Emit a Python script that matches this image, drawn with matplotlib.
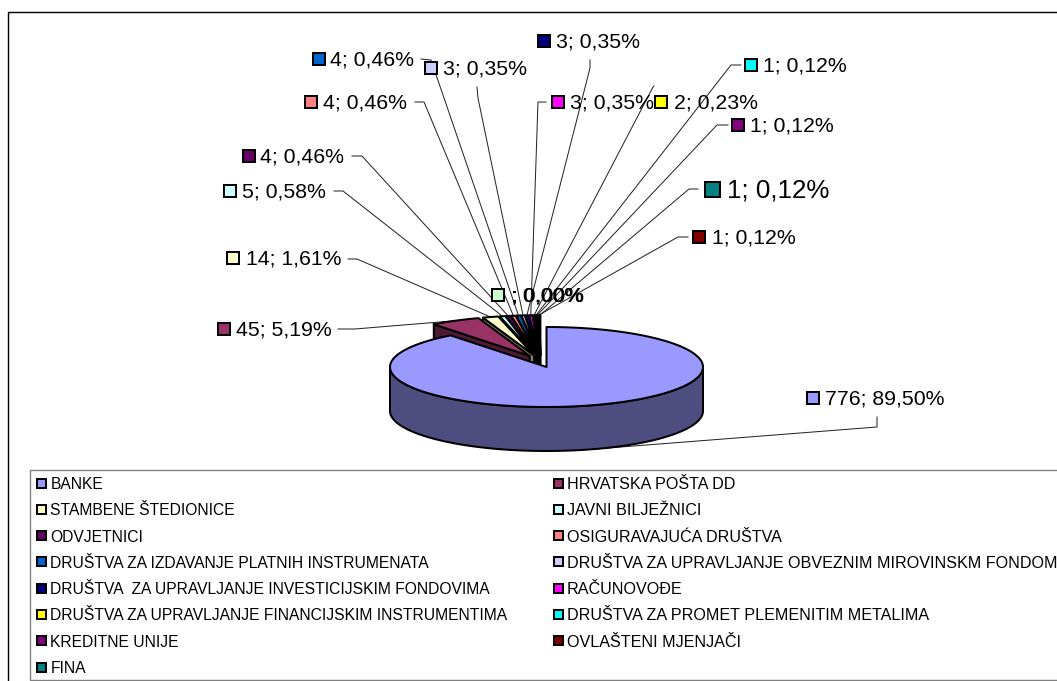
import numpy as np
import matplotlib
matplotlib.use("Agg")
import matplotlib.pyplot as plt
from matplotlib.patches import Polygon, Rectangle

plt.rcParams['font.family'] = ['Liberation Sans', 'DejaVu Sans']

categories = ["BANKE", "HRVATSKA POŠTA DD", "STAMBENE ŠTEDIONICE", "JAVNI BILJEŽNICI", "ODVJETNICI",
              "OSIGURAVAJUĆA DRUŠTVA", "DRUŠTVA ZA IZDAVANJE PLATNIH INSTRUMENATA",
              "DRUŠTVA ZA UPRAVLJANJE OBVEZNIM MIROVINSKM FONDOM",
              "DRUŠTVA  ZA UPRAVLJANJE INVESTICIJSKIM FONDOVIMA", "RAČUNOVOĐE",
              "DRUŠTVA ZA UPRAVLJANJE FINANCIJSKIM INSTRUMENTIMA", "DRUŠTVA ZA PROMET PLEMENITIM METALIMA",
              "KREDITNE UNIJE", "OVLAŠTENI MJENJAČI", "FINA"]
values = [776, 45, 14, 5, 4, 4, 4, 3, 3, 3, 2, 1, 1, 1, 1]
colors = ["#9999FF", "#993366", "#FFFFCC", "#CCFFFF", "#660066", "#FF8080", "#0066CC", "#CCCCFF",
          "#000080", "#FF00FF", "#FFFF00", "#00FFFF", "#800080", "#800000", "#008080"]
empty_label_color = "#CCFFCC"

# layout (pixels): marker centre, text start, leader start, elbow
label_layout = [
    ((813, 398), 825, (877, 417), (877, 427)),
    ((224, 329), 236, (338, 329), (355, 329)),
    ((233, 258), 246, (348, 259), (357, 259)),
    ((230, 191), 242, (334, 191), (343, 191)),
    ((249, 156), 260, (352, 156), (362, 156)),
    ((311, 102), 323, (415, 102), (424, 102)),
    ((319, 59), 330, (421, 59), (431, 60)),
    ((431, 68), 443, (477, 87), (478, 98)),
    ((544, 41), 556, (590, 60), (590, 68)),
    ((558, 102), 570, (546, 102), (538, 102)),
    ((661, 102), 674, (654, 86), (653, 87)),
    ((751, 65), 763, (741, 65), (731, 65)),
    ((738, 125), 750, (728, 125), (717, 125)),
    ((699, 237), 712, (688, 237), (678, 237)),
    ((712, 189), 727, (698, 189), (689, 189)),
]
CX, CY, RX, RY, DEPTH = 546.5, 367.0, 156.5, 40.0, 44.0
EXPLODE, BASE_DX, BASE_DY = 0.145, -6.0, -6.0
FS, FS_BIG = 15.3, 18.7
FS_LEG = (11.25, 11.6)
PX = 0.72

fig = plt.figure(figsize=(10.57, 6.81), dpi=100, facecolor="white")
ax = fig.add_axes([0, 0, 1, 1])
ax.set_xlim(0, 1057)
ax.set_ylim(681, 0)
ax.axis("off")


def pt(deg, ox=0.0, oy=0.0, r=1.0):
    a = np.radians(deg)
    return np.array([ox + CX + r * RX * np.sin(a), oy + CY - r * RY * np.cos(a)])


def darker(c):
    return tuple(v * 0.5 for v in matplotlib.colors.to_rgb(c))


total = sum(values)
fractions = [v / total for v in values]
edges = np.concatenate([[0], np.cumsum(fractions) * 360])
lw = 2 * PX

# outer chart frame
ax.add_patch(Rectangle((7.5, 12), 1060, 680, fc="white", ec="black", lw=1.4 * PX, zorder=0))


def offset(i):
    mid = np.radians((edges[i] + edges[i + 1]) / 2)
    if i == 0:
        return 0.0, 0.0
    return (BASE_DX + EXPLODE * RX * np.sin(mid), BASE_DY - EXPLODE * RY * np.cos(mid))


# leader lines, behind the pie
for i in range(len(values)):
    ox, oy = offset(i)
    mid = (edges[i] + edges[i + 1]) / 2
    end = pt(mid, ox, oy)
    if i == 0:
        end = end + np.array([0, DEPTH])
    _, _, start, elbow = label_layout[i]
    ax.plot([start[0], elbow[0], end[0]], [start[1], elbow[1], end[1]], color="#222222",
            lw=1.0 * PX, zorder=1, solid_joinstyle="miter")

z = 2
# exploded slices: back to front
for i in range(len(values) - 1, 0, -1):
    ox, oy = offset(i)
    apex = np.array([CX + ox, CY + oy])
    outer = pt(edges[i], ox, oy)
    d = np.array([0, DEPTH])
    wall = darker(colors[i]) if i < 3 else "black"
    ax.add_patch(Polygon([apex, outer, outer + d, apex + d], fc=wall, ec="black", lw=lw, zorder=z))
    z += 1
    angs = np.linspace(edges[i], edges[i + 1], 12)
    ax.add_patch(Polygon([apex] + [pt(a, ox, oy) for a in angs], fc=colors[i], ec="black", lw=lw, zorder=z,
                         joinstyle="round"))
    z += 1

# main slice: side then top
z = 60
angs = np.linspace(90, 270, 120)
front = [pt(a) for a in angs]
ax.add_patch(Polygon(front + [p + np.array([0, DEPTH]) for p in front[::-1]], fc=darker(colors[0]), ec="black",
                     lw=lw, zorder=z))
angs = np.linspace(edges[0], edges[1], 300)
ax.add_patch(Polygon([pt(0, r=0)] + [pt(a) for a in angs], fc=colors[0], ec="black", lw=lw, zorder=z + 1,
                     joinstyle="round"))


def swatch(x, y, size, color, border):
    ax.add_patch(Rectangle((x - size / 2, y - size / 2), size, size, fc=color, ec="black", lw=border * PX, zorder=80))


# data labels
for i, v in enumerate(values):
    (mx, my), tx, _, _ = label_layout[i]
    big = categories[i] == "FINA"
    swatch(mx, my, 15 if big else 12, colors[i], 2)
    txt = f"{v}; {100 * v / total:.2f}%".replace(".", ",")
    ax.text(tx, my - 1, txt, fontsize=FS_BIG if big else FS, va="center_baseline", ha="left", color="black", zorder=81)

# the unnamed zero-value labels, drawn on top of each other
swatch(498, 295, 12, empty_label_color, 2)
for dx in (0, 0.7):
    ax.text(511 + dx, 294, "; 0,00%", fontsize=FS, va="center_baseline", ha="left", color="black", zorder=81)

# legend
ax.add_patch(Rectangle((30, 470), 1040, 210, fc="white", ec="#808080", lw=1.4 * PX, zorder=70))
row_h = 26.3
for i, name in enumerate(categories):
    col, row = i % 2, i // 2
    y = 483 + row * row_h
    x = 41.5 if col == 0 else 558
    swatch(x, y, 9, colors[i], 2)
    ax.text(x + 9, y, name, fontsize=FS_LEG[col], va="center_baseline", ha="left", color="black", zorder=81)

fig.savefig("out.png", dpi=100, facecolor="white")
